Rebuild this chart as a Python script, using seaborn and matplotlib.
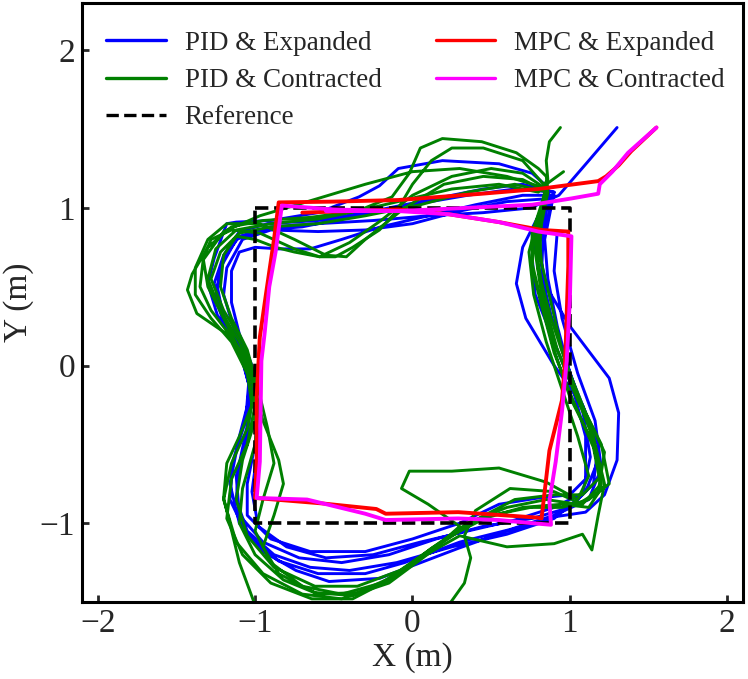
import pandas as pd
import seaborn as sns
import matplotlib.pyplot as plt
from matplotlib.lines import Line2D

# Trajectory points, (x, y) in metres, one list per lap
pid_expanded_laps = [
    [(1.30, 1.51), (1.12, 1.30), (0.93, 1.08), (0.75, 1.00), (0.45, 0.97), (0.10, 0.95), (-0.25, 0.92),
     (-0.60, 0.90), (-0.90, 0.88), (-1.10, 0.82), (-1.20, 0.68), (-1.24, 0.50), (-1.20, 0.30), (-1.10, 0.10),
     (-1.04, -0.12), (-1.05, -0.38), (-1.10, -0.62), (-1.12, -0.85), (-1.05, -1.05), (-0.88, -1.20),
     (-0.65, -1.28), (-0.40, -1.30), (-0.10, -1.25), (0.25, -1.15), (0.60, -1.07), (0.90, -0.97),
     (1.08, -0.82), (1.13, -0.58), (1.08, -0.28), (0.98, 0.02), (0.88, 0.32), (0.82, 0.58), (0.83, 0.82),
     (0.88, 1.02)],
    [(0.88, 1.02), (0.85, 1.14), (0.76, 1.22), (0.55, 1.28), (0.19, 1.30), (-0.09, 1.25), (-0.21, 1.14),
     (-0.34, 1.07), (-0.60, 0.97), (-0.90, 0.92), (-1.12, 0.91), (-1.18, 0.90), (-1.21, 0.82), (-1.26, 0.68),
     (-1.30, 0.52), (-1.24, 0.32), (-1.12, 0.14), (-1.04, -0.05), (-1.04, -0.22), (-1.10, -0.45),
     (-1.16, -0.75), (-1.10, -1.00), (-0.95, -1.18), (-0.74, -1.30), (-0.53, -1.37), (-0.21, -1.35),
     (0.00, -1.27), (0.29, -1.16), (0.60, -1.05), (0.90, -0.96), (1.10, -0.93), (1.22, -0.82), (1.30, -0.60),
     (1.31, -0.30), (1.25, -0.08), (1.00, 0.25), (0.85, 0.50), (0.80, 0.75), (0.85, 0.98)],
    [(0.85, 0.98), (0.90, 1.08), (0.70, 1.08), (0.40, 1.02), (0.10, 0.95), (-0.20, 0.88), (-0.45, 0.80),
     (-0.65, 0.74), (-0.85, 0.74), (-1.00, 0.75), (-1.10, 0.72), (-1.15, 0.60), (-1.15, 0.40), (-1.10, 0.20),
     (-1.02, 0.00), (-0.98, -0.25), (-1.00, -0.50), (-1.05, -0.75), (-1.05, -0.95), (-0.90, -1.10),
     (-0.65, -1.18), (-0.30, -1.18), (0.00, -1.10), (0.30, -1.00), (0.55, -0.88), (0.80, -0.84),
     (1.00, -0.82), (1.10, -0.72), (1.10, -0.45), (1.02, -0.15), (0.90, 0.15), (0.78, 0.45), (0.76, 0.70),
     (0.82, 0.95)],
    [(0.82, 0.95), (0.90, 1.10), (0.65, 1.12), (0.35, 1.08), (0.00, 1.02), (-0.35, 0.95), (-0.70, 0.88),
     (-0.95, 0.86), (-1.12, 0.80), (-1.22, 0.62), (-1.25, 0.42), (-1.18, 0.22), (-1.08, 0.04), (-1.02, -0.20),
     (-1.05, -0.45), (-1.12, -0.70), (-1.10, -0.95), (-0.95, -1.12), (-0.72, -1.22), (-0.45, -1.25),
     (-0.15, -1.20), (0.15, -1.10), (0.45, -1.02), (0.76, -0.97), (1.00, -0.90), (1.15, -0.75), (1.18, -0.50),
     (1.08, -0.25), (0.90, 0.00), (0.72, 0.30), (0.66, 0.52), (0.70, 0.75), (0.80, 0.95)],
    [(0.80, 0.95), (0.88, 1.06), (0.60, 1.04), (0.30, 0.98), (0.00, 0.90), (-0.30, 0.86), (-0.60, 0.85),
     (-0.90, 0.86), (-1.08, 0.80), (-1.18, 0.62), (-1.20, 0.45), (-1.14, 0.25), (-1.06, 0.05), (-1.00, -0.20),
     (-0.98, -0.50), (-1.02, -0.80), (-0.98, -1.02), (-0.80, -1.15), (-0.55, -1.22), (-0.25, -1.20),
     (0.05, -1.12), (0.35, -1.05), (0.65, -0.98), (0.90, -0.90), (1.10, -0.80), (1.18, -0.60), (1.12, -0.35),
     (1.00, -0.05), (0.92, 0.25), (0.86, 0.55), (0.84, 0.80), (0.88, 1.00)],
    [(0.88, 1.00), (0.90, 1.10), (0.70, 1.15), (0.45, 1.12), (0.10, 1.05), (-0.25, 0.98), (-0.60, 0.92),
     (-0.92, 0.90), (-1.10, 0.85), (-1.20, 0.70), (-1.26, 0.52), (-1.20, 0.32), (-1.10, 0.12), (-1.04, -0.10),
     (-1.06, -0.35), (-1.14, -0.60), (-1.16, -0.85), (-1.05, -1.08), (-0.85, -1.24), (-0.60, -1.32),
     (-0.30, -1.32), (-0.05, -1.25), (0.30, -1.12), (0.62, -1.04), (0.90, -0.95), (1.12, -0.85), (1.20, -0.65),
     (1.16, -0.35), (1.05, -0.05), (0.95, 0.30), (0.90, 0.60), (0.92, 0.85)],
]

# green run leaves the plot at the bottom once, so it is kept in two pieces
pid_contracted_laps_a = [
    [(0.94, 1.51), (0.87, 1.42), (0.85, 1.30), (0.86, 1.18), (0.80, 1.10), (0.55, 1.15), (0.25, 1.12),
     (-0.05, 1.05), (-0.35, 0.98), (-0.65, 0.94), (-0.95, 0.92), (-1.15, 0.88), (-1.30, 0.75), (-1.40, 0.58),
     (-1.43, 0.48), (-1.37, 0.33), (-1.18, 0.20), (-1.06, 0.05), (-1.00, -0.15), (-1.05, -0.40),
     (-1.15, -0.62), (-1.20, -0.85), (-1.12, -1.12), (-0.95, -1.32), (-0.70, -1.45), (-0.45, -1.48),
     (-0.15, -1.38), (0.12, -1.18), (0.30, -1.02), (0.10, -0.88), (-0.07, -0.78), (-0.02, -0.67),
     (0.25, -0.67), (0.55, -0.65), (0.85, -0.74), (1.05, -0.85), (1.12, -0.70), (1.05, -0.45), (0.95, -0.15),
     (0.85, 0.15), (0.77, 0.45), (0.74, 0.72), (0.80, 0.95), (0.86, 1.12)],
    [(0.85, 1.20), (0.80, 1.25), (0.66, 1.35), (0.44, 1.42), (0.19, 1.44), (0.05, 1.38), (-0.02, 1.22),
     (-0.13, 1.07), (-0.35, 0.98), (-0.60, 0.93), (-0.90, 0.90), (-1.12, 0.86), (-1.25, 0.74), (-1.30, 0.55),
     (-1.22, 0.35), (-1.10, 0.15), (-1.02, -0.05), (-0.98, -0.25), (-1.00, -0.50), (-1.08, -0.78),
     (-1.10, -1.00), (-1.00, -1.20), (-0.82, -1.36), (-0.60, -1.45), (-0.35, -1.44), (-0.10, -1.33),
     (0.15, -1.15), (0.40, -0.98), (0.65, -0.85), (0.90, -0.82), (1.08, -0.82), (1.20, -0.70), (1.15, -0.45),
     (1.02, -0.15), (0.90, 0.15), (0.82, 0.45), (0.78, 0.72), (0.82, 0.95), (0.86, 1.12)],
    [(0.70, 1.30), (0.45, 1.38), (0.25, 1.38), (0.12, 1.30), (0.00, 1.15), (-0.10, 0.98), (-0.21, 0.86),
     (-0.38, 0.75), (-0.49, 0.69), (-0.59, 0.69), (-0.75, 0.74), (-0.97, 0.84), (-1.15, 0.86), (-1.28, 0.80),
     (-1.33, 0.68), (-1.30, 0.50), (-1.20, 0.30), (-1.10, 0.10), (-1.02, -0.10), (-0.95, -0.35),
     (-0.85, -0.60), (-0.82, -0.75), (-0.88, -0.95), (-0.95, -1.15), (-0.85, -1.32), (-0.62, -1.44),
     (-0.38, -1.46), (-0.12, -1.35), (0.12, -1.16), (0.35, -1.00), (0.60, -0.90), (0.85, -0.85),
     (1.05, -0.88), (1.18, -0.80), (1.22, -0.55), (1.10, -0.30), (0.98, 0.00), (0.88, 0.30), (0.80, 0.60),
     (0.78, 0.85), (0.86, 1.12)],
    [(0.60, 1.20), (0.30, 1.25), (0.00, 1.23), (-0.30, 1.15), (-0.60, 1.06), (-0.97, 0.95), (-1.20, 0.85),
     (-1.33, 0.67), (-1.35, 0.50), (-1.28, 0.35), (-1.15, 0.18), (-1.05, -0.05), (-1.02, -0.25),
     (-1.10, -0.45), (-1.18, -0.62), (-1.20, -0.84), (-1.10, -1.25), (-1.00, -1.52)],
]
pid_contracted_laps_b = [
    [(0.23, -1.52), (0.33, -1.38), (0.37, -1.22), (0.33, -1.08), (0.40, -0.92), (0.62, -0.78), (0.90, -0.80),
     (1.08, -0.88), (1.20, -0.75), (1.15, -0.50), (1.00, -0.20), (0.90, 0.10), (0.82, 0.40), (0.76, 0.65),
     (0.78, 0.90), (0.85, 1.12)],
    [(0.70, 1.22), (0.50, 1.25), (0.25, 1.20), (0.00, 1.08), (-0.20, 0.92), (-0.40, 0.78), (-0.59, 0.69),
     (-0.75, 0.72), (-0.87, 0.75), (-1.00, 0.80), (-1.12, 0.82), (-1.20, 0.70), (-1.22, 0.50), (-1.15, 0.30),
     (-1.05, 0.10), (-0.98, -0.15), (-0.92, -0.40), (-0.88, -0.62), (-0.95, -0.85), (-1.00, -1.05),
     (-0.90, -1.25), (-0.70, -1.40), (-0.45, -1.45), (-0.20, -1.38), (0.05, -1.22), (0.30, -1.08),
     (0.60, -1.15), (0.90, -1.13), (1.08, -1.07), (1.14, -1.17), (1.18, -0.95), (1.22, -0.75), (1.16, -0.50),
     (1.05, -0.20), (0.92, 0.10), (0.84, 0.40), (0.80, 0.65), (0.82, 0.90), (0.86, 1.10)],
    [(0.65, 1.15), (0.35, 1.10), (0.05, 1.02), (-0.30, 0.95), (-0.60, 0.90), (-0.90, 0.88), (-1.10, 0.84),
     (-1.22, 0.72), (-1.28, 0.55), (-1.20, 0.35), (-1.08, 0.15), (-1.00, -0.10), (-1.00, -0.35),
     (-1.08, -0.60), (-1.12, -0.85), (-1.05, -1.08), (-0.88, -1.28), (-0.62, -1.40), (-0.35, -1.40),
     (-0.08, -1.30), (0.18, -1.12), (0.42, -0.98), (0.70, -0.90), (0.95, -0.88), (1.12, -0.90), (1.20, -0.78),
     (1.15, -0.52), (1.02, -0.22), (0.90, 0.08), (0.82, 0.38), (0.76, 0.62), (0.76, 0.85), (0.86, 1.10)],
    [(0.70, 1.18), (0.45, 1.20), (0.20, 1.15), (-0.05, 1.00), (-0.30, 0.80), (-0.42, 0.69), (-0.55, 0.70),
     (-0.75, 0.80), (-0.97, 0.90), (-1.18, 0.90), (-1.30, 0.80), (-1.38, 0.62), (-1.38, 0.45), (-1.28, 0.30),
     (-1.15, 0.15), (-1.05, -0.05), (-1.00, -0.25), (-1.05, -0.50), (-1.15, -0.72), (-1.18, -0.97),
     (-1.08, -1.20), (-0.90, -1.38), (-0.64, -1.48), (-0.38, -1.48), (-0.13, -1.35), (0.12, -1.16),
     (0.30, -1.05), (0.50, -0.95), (0.75, -0.90), (0.95, -0.90), (1.12, -0.85), (1.25, -0.75), (1.20, -0.50),
     (1.05, -0.20), (0.95, 0.10), (0.88, 0.40), (0.82, 0.65), (0.80, 0.90), (0.85, 1.15), (0.96, 1.23)],
]

mpc_expanded = [
    (1.55, 1.51), (1.39, 1.36), (1.31, 1.27), (1.23, 1.20), (1.18, 1.17), (0.80, 1.12), (0.44, 1.09),
    (-0.09, 1.05), (-0.50, 1.04), (-0.85, 1.035), (-0.88, 0.80), (-0.93, 0.46), (-0.97, 0.18), (-0.99, -0.20),
    (-0.99, -0.60), (-1.00, -0.84), (-0.57, -0.875), (-0.23, -0.91), (-0.17, -0.94), (0.29, -0.93),
    (0.80, -0.965), (0.82, -0.97), (0.87, -0.54), (0.95, -0.22), (0.97, 0.03), (0.99, 0.63), (0.99, 0.85),
    (0.82, 0.86), (0.55, 0.91), (0.23, 0.96), (-0.09, 0.99), (-0.70, 0.97),
]
mpc_contracted = [
    (1.55, 1.51), (1.37, 1.35), (1.27, 1.23), (1.19, 1.15), (1.18, 1.09), (1.01, 1.06), (0.76, 1.02),
    (0.34, 1.00), (-0.09, 0.98), (-0.50, 0.99), (-0.83, 1.015), (-0.87, 0.72), (-0.91, 0.50), (-0.94, 0.20),
    (-0.96, 0.03), (-0.97, -0.61), (-0.99, -0.84), (-0.67, -0.85), (-0.30, -0.94), (-0.17, -0.98),
    (0.29, -0.97), (0.55, -0.98), (0.76, -1.00), (0.88, -1.01), (0.87, -0.86), (0.91, -0.61), (0.95, -0.29),
    (0.98, 0.03), (1.00, 0.42), (1.01, 0.82), (0.80, 0.85), (0.55, 0.91), (0.23, 0.96), (-0.09, 0.98),
    (-0.55, 0.98),
]

ref_x = [-1, 1, 1, -1, -1]
ref_y = [1, 1, -1, -1, 1]

series_names = ["PID & Expanded", "PID & Contracted", "MPC & Expanded", "MPC & Contracted"]
colors = {"PID & Expanded": "#0000ff", "PID & Contracted": "#008000",
          "MPC & Expanded": "#ff0000", "MPC & Contracted": "#ff00ff"}
widths = {"PID & Expanded": 2.1, "PID & Contracted": 2.1,
          "MPC & Expanded": 2.8, "MPC & Contracted": 2.8}

segments = {
    "PID & Expanded": [sum(pid_expanded_laps, [])],
    "PID & Contracted": [sum(pid_contracted_laps_a, []), sum(pid_contracted_laps_b, [])],
    "MPC & Expanded": [mpc_expanded],
    "MPC & Contracted": [mpc_contracted],
}

rows = []
for name, segs in segments.items():
    for k, seg in enumerate(segs):
        for i, (x, y) in enumerate(seg):
            rows.append({"series": name, "seg": k, "i": i, "x": x, "y": y})
df = pd.DataFrame(rows)
ref_df = pd.DataFrame({"x": ref_x, "y": ref_y, "i": range(len(ref_x))})

sns.set_style("ticks")
plt.rcParams["font.family"] = ["Liberation Serif", "DejaVu Serif"]
plt.rcParams["lines.solid_joinstyle"] = "round"

fig = plt.figure(figsize=(7.48, 6.79), dpi=100)
ax = fig.add_axes([0.1096, 0.1134, 0.8837, 0.8822])

for name in series_names[:2]:
    sub = df[df["series"] == name]
    sns.lineplot(data=sub, x="x", y="y", units="seg", estimator=None, sort=False,
                 color=colors[name], linewidth=widths[name], ax=ax, legend=False)

sns.lineplot(data=ref_df, x="x", y="y", estimator=None, sort=False, color="black",
             linewidth=2.6, linestyle="--", ax=ax, legend=False)

for name in series_names[2:]:
    sub = df[df["series"] == name]
    sns.lineplot(data=sub, x="x", y="y", units="seg", estimator=None, sort=False,
                 color=colors[name], linewidth=widths[name], ax=ax, legend=False)

ax.set_xlim(-2.1, 2.1)
ax.set_ylim(-1.5, 2.3)
ax.set_xticks([-2, -1, 0, 1, 2])
ax.set_yticks([-1, 0, 1, 2])
ax.set_xlabel("X (m)", fontsize=24, labelpad=2)
ax.set_ylabel("Y (m)", fontsize=24, labelpad=4)
ax.tick_params(direction="in", length=5, width=2, labelsize=24, pad=5)
for sp in ax.spines.values():
    sp.set_linewidth(2.2)
    sp.set_color("black")

handles = [Line2D([], [], color=colors["PID & Expanded"], lw=2.4),
           Line2D([], [], color=colors["PID & Contracted"], lw=2.4),
           Line2D([], [], color="black", lw=2.4, linestyle="--"),
           Line2D([], [], color=colors["MPC & Expanded"], lw=2.4),
           Line2D([], [], color=colors["MPC & Contracted"], lw=2.4)]
labels = ["PID & Expanded", "PID & Contracted", "Reference", "MPC & Expanded", "MPC & Contracted"]
ax.legend(handles, labels, ncol=2, frameon=False, loc="upper left", bbox_to_anchor=(0.008, 0.985),
          fontsize=19.5, handlelength=2.2, handletextpad=0.7, columnspacing=2.0, labelspacing=0.45,
          borderaxespad=0.3)

fig.savefig("out.png", dpi=100)
